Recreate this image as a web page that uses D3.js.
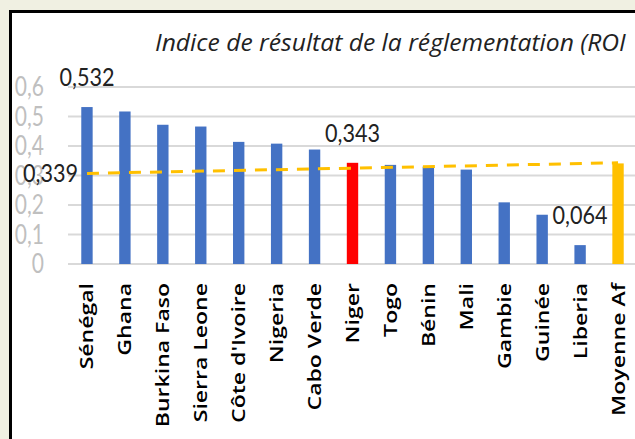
<!DOCTYPE html>
<html lang="fr">
<head>
<meta charset="utf-8">
<script src="https://d3js.org/d3.v7.min.js"></script>
<style>
  body { margin: 0; background: #f0f0e2; }
  svg { display: block; }
</style>
</head>
<body>
<div id="chart"></div>
<script>
// donnees
var pays = ["Sénégal", "Ghana", "Burkina Faso", "Sierra Leone", "Côte d'Ivoire", "Nigeria",
            "Cabo Verde", "Niger", "Togo", "Bénin", "Mali", "Gambie", "Guinée", "Liberia", "Moyenne Af"];
var valeurs = [0.532, 0.517, 0.472, 0.466, 0.414, 0.408, 0.388, 0.343, 0.336, 0.330, 0.320,
               0.209, 0.167, 0.064, 0.341];
var ticks = [0, 0.1, 0.2, 0.3, 0.4, 0.5, 0.6];
// ligne de tendance (debut, fin)
var tendance = [0.307, 0.343];
var etiquettes = ["Sénégal", "Niger", "Liberia"];
var titre = "Indice de résultat de la réglementation (ROI";

var W = 635, H = 439;
var fr = d3.formatLocale({decimal: ",", thousands: " ", grouping: [3], currency: ["", " €"]});
var fmt = fr.format("~g");
var fmt3 = fr.format(".3f");

var svg = d3.select("#chart").append("svg").attr("width", W).attr("height", H);

// cadre
svg.append("rect").attr("x", 10.5).attr("y", 11.5).attr("width", W).attr("height", H)
  .attr("fill", "white").attr("stroke", "black").attr("stroke-width", 3);

var x = d3.scaleBand().domain(pays).range([68, 637]).paddingInner(0.7).paddingOuter(0.35);
var y = d3.scaleLinear().domain([0, 0.6]).range([264, 87]);

// grille
svg.append("g").selectAll("line").data(ticks).join("line")
  .attr("x1", 68).attr("x2", W)
  .attr("y1", d => y(d)).attr("y2", d => y(d))
  .attr("stroke", "#d9d9d9").attr("stroke-width", 2);

// axe y
svg.append("g").selectAll("text").data(ticks).join("text")
  .attr("transform", d => "translate(44," + y(d) + ") scale(1,1.25)")
  .attr("dy", "0.35em")
  .attr("text-anchor", "end")
  .attr("font-family", "Lato, sans-serif").attr("font-size", 21)
  .attr("fill", "#bfbfbf")
  .text(d => fmt(d));

// barres
svg.append("g").selectAll("rect").data(pays).join("rect")
  .attr("x", d => x(d)).attr("width", x.bandwidth())
  .attr("y", (d, i) => y(valeurs[i])).attr("height", (d, i) => y(0) - y(valeurs[i]))
  .attr("fill", d => d === "Niger" ? "#ff0000" : d === "Moyenne Af" ? "#ffc000" : "#4472c4");

// tendance
var cx = d => x(d) + x.bandwidth() / 2;
svg.append("line")
  .attr("x1", cx(pays[0])).attr("x2", cx(pays[pays.length - 1]))
  .attr("y1", y(tendance[0])).attr("y2", y(tendance[1]))
  .attr("stroke", "#ffc000").attr("stroke-width", 3).attr("stroke-dasharray", "12,9");

// etiquettes de donnees
svg.append("g").selectAll("text").data(etiquettes).join("text")
  .attr("transform", d => "translate(" + cx(d) + "," + (y(valeurs[pays.indexOf(d)]) - 30) + ") scale(1.08,1.25)")
  .attr("dy", "0.35em").attr("text-anchor", "middle")
  .attr("font-family", "Lato, sans-serif").attr("font-size", 20).attr("fill", "#222")
  .text(d => fmt3(valeurs[pays.indexOf(d)]));

svg.append("text")
  .attr("transform", "translate(" + (cx(pays[0]) - 9) + "," + y(tendance[0]) + ") scale(1.08,1.25)")
  .attr("dy", "0.35em").attr("text-anchor", "end")
  .attr("font-family", "Lato, sans-serif").attr("font-size", 20).attr("fill", "#222")
  .text("0,339");

// axe x
svg.append("g").selectAll("text").data(pays).join("text")
  .attr("transform", d => "translate(" + cx(d) + ",283) rotate(-90) scale(1.28,1)")
  .attr("dy", "0.36em").attr("text-anchor", "end")
  .attr("font-family", "'Open Sans', sans-serif").attr("font-size", 18)
  .attr("font-weight", 600).attr("fill", "#000")
  .text(d => d);

// titre
var t = svg.append("text")
  .attr("font-family", "'Open Sans', sans-serif").attr("font-style", "italic")
  .attr("font-size", 20).attr("fill", "#222")
  .text(titre);
var tw = t.node().getComputedTextLength();
t.attr("transform", "translate(155,51) scale(" + (471 / tw) + "," + 1.15 + ")");
</script>
</body>
</html>
